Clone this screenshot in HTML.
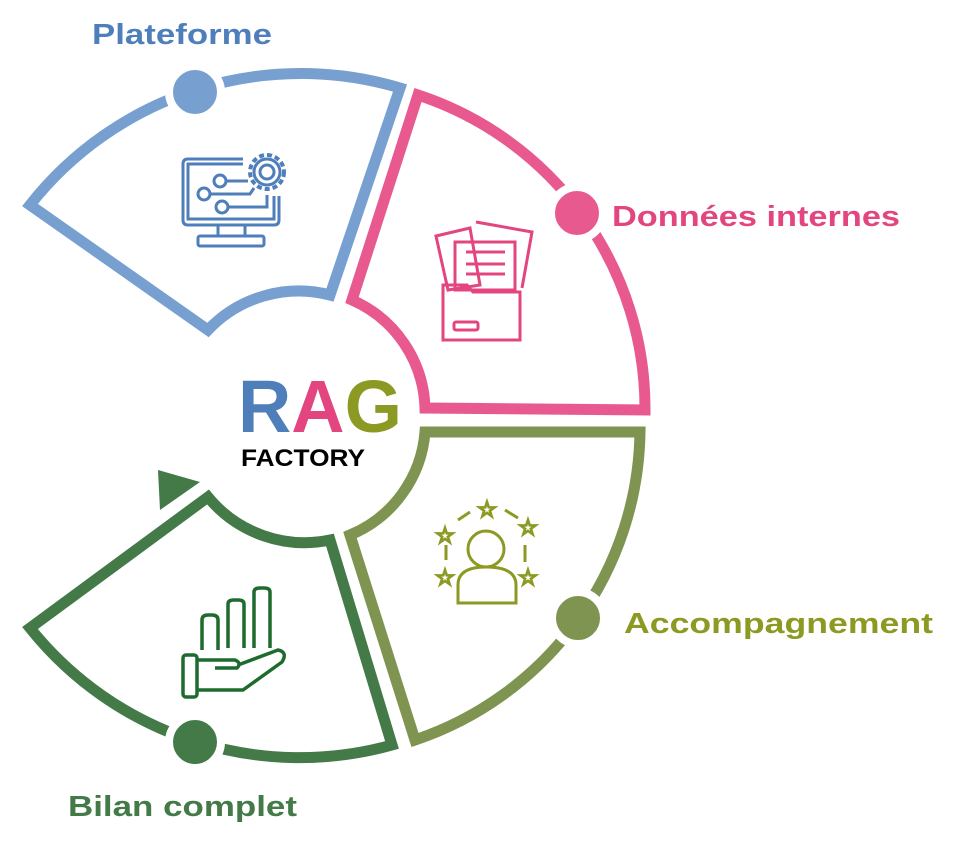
<!DOCTYPE html>
<html><head><meta charset="utf-8"><style>
html,body{margin:0;padding:0;background:#fff;width:980px;height:863px;overflow:hidden}
svg{display:block}
text{font-family:"Liberation Sans",sans-serif;font-weight:bold}
</style></head><body>
<svg width="980" height="863" viewBox="0 0 980 863">
<g fill="none" stroke-width="11" stroke-linejoin="miter">
<path d="M30,205 L208,330 A125 125 0 0 1 330,295 L400,88 A345 345 0 0 0 30,205 Z" stroke="#77a0d0"/>
<path d="M418,95 A330 330 0 0 1 645,410 L425,408 A122 122 0 0 0 352,300 Z" stroke="#e85a8f"/>
<path d="M425,432 L640,432 A330 330 0 0 1 415,740 L350,535 A122 122 0 0 0 425,432 Z" stroke="#7f9450"/>
<path d="M208,497 A125 125 0 0 0 330,540 L392,745 A345 345 0 0 1 30,628 Z" stroke="#437a48"/>
</g>
<polygon points="158,470 200,482 160,510" fill="#437a48"/>
<g stroke="#fff" stroke-width="8">
<circle cx="195" cy="92" r="26" fill="#77a0d0"/>
<circle cx="577" cy="213" r="26" fill="#e85a8f"/>
<circle cx="578" cy="618" r="26" fill="#7f9450"/>
<circle cx="195" cy="742" r="26" fill="#437a48"/>
</g>
<!-- monitor icon -->
<g fill="none" stroke="#4f7fbb" stroke-width="3">
<path d="M243,159 H188 Q183,159 183,164 V220 Q183,225 188,225 H274 Q279,225 279,220 V196"/>
<path d="M243,164 H188 V219 H274 V196"/>
<path d="M218,226 V236 M245,226 V236"/>
<rect x="198" y="236" width="66" height="10" rx="2"/>
<circle cx="267" cy="172" r="17" stroke-dasharray="5 3" stroke-width="4"/>
<circle cx="267" cy="172" r="13"/>
<circle cx="267" cy="172" r="7"/>
<circle cx="220" cy="181" r="6"/><circle cx="204" cy="194" r="6"/><circle cx="222" cy="207" r="6"/>
<path d="M226,181 H248 M210,194 H250 L254,188 M228,207 H267 V195"/>
</g>
<!-- folder icon -->
<g fill="none" stroke="#e2457f" stroke-width="3">
<path d="M436,236 L470,228 L480,285 L448,290 Z"/>
<path d="M476,222 L532,232 L522,288"/>
<rect x="455" y="242" width="60" height="48"/>
<path d="M466,252 H505 M466,264 H505 M466,274 H505"/>
<path d="M443,285 H467 L473,292 H520 V340 H443 Z"/>
<rect x="454" y="322" width="24" height="8" rx="2"/>
</g>
<!-- person stars icon -->
<g fill="none" stroke="#8c9a23" stroke-width="3">
<circle cx="486" cy="549" r="18"/>
<path d="M458,603 V585 Q458,567 486,567 Q516,567 516,585 V603 Z"/>
<path d="M446,545 V560 M505,510 L518,518 M470,512 L458,520 M525,545 V562"/>
<text x="445" y="543" font-size="22" fill="none" text-anchor="middle" stroke-width="2" style="font-family:'DejaVu Sans'">☆</text>
<text x="487" y="517" font-size="22" fill="none" text-anchor="middle" stroke-width="2" style="font-family:'DejaVu Sans'">☆</text>
<text x="528" y="535" font-size="22" fill="none" text-anchor="middle" stroke-width="2" style="font-family:'DejaVu Sans'">☆</text>
<text x="445" y="585" font-size="22" fill="none" text-anchor="middle" stroke-width="2" style="font-family:'DejaVu Sans'">☆</text>
<text x="528" y="585" font-size="22" fill="none" text-anchor="middle" stroke-width="2" style="font-family:'DejaVu Sans'">☆</text>
</g>
<!-- hand icon -->
<g fill="none" stroke="#1e6b2e" stroke-width="3.5" stroke-linejoin="round">
<path d="M202,650 V620 Q202,615 208,615 H212 Q218,615 218,620 V650"/>
<path d="M228,648 V604 Q228,600 234,600 H238 Q244,600 244,604 V648"/>
<path d="M254,648 V592 Q254,588 260,588 H264 Q270,588 270,592 V648"/>
<rect x="183" y="655" width="14" height="42" rx="3"/>
<path d="M197,660 H235 Q242,663 237,668 H215 M238,665 L278,650 Q288,652 282,662 L243,690 H197"/>
</g>
<text x="92" y="44" font-size="29" fill="#4f7fbb" textLength="180" lengthAdjust="spacingAndGlyphs">Plateforme</text>
<text x="612" y="226" font-size="29" fill="#e2457f" textLength="288" lengthAdjust="spacingAndGlyphs">Données internes</text>
<text x="624" y="633" font-size="29" fill="#8c9a23" textLength="309" lengthAdjust="spacingAndGlyphs">Accompagnement</text>
<text x="68" y="816" font-size="29" fill="#437a48" textLength="229" lengthAdjust="spacingAndGlyphs">Bilan complet</text>
<text x="238" y="432" font-size="74" textLength="164" lengthAdjust="spacingAndGlyphs"><tspan fill="#4f7fbb">R</tspan><tspan fill="#e2457f">A</tspan><tspan fill="#8c9a23">G</tspan></text>
<text x="241" y="466" font-size="24" fill="#000" textLength="124" lengthAdjust="spacingAndGlyphs">FACTORY</text>
</svg>
</body></html>
